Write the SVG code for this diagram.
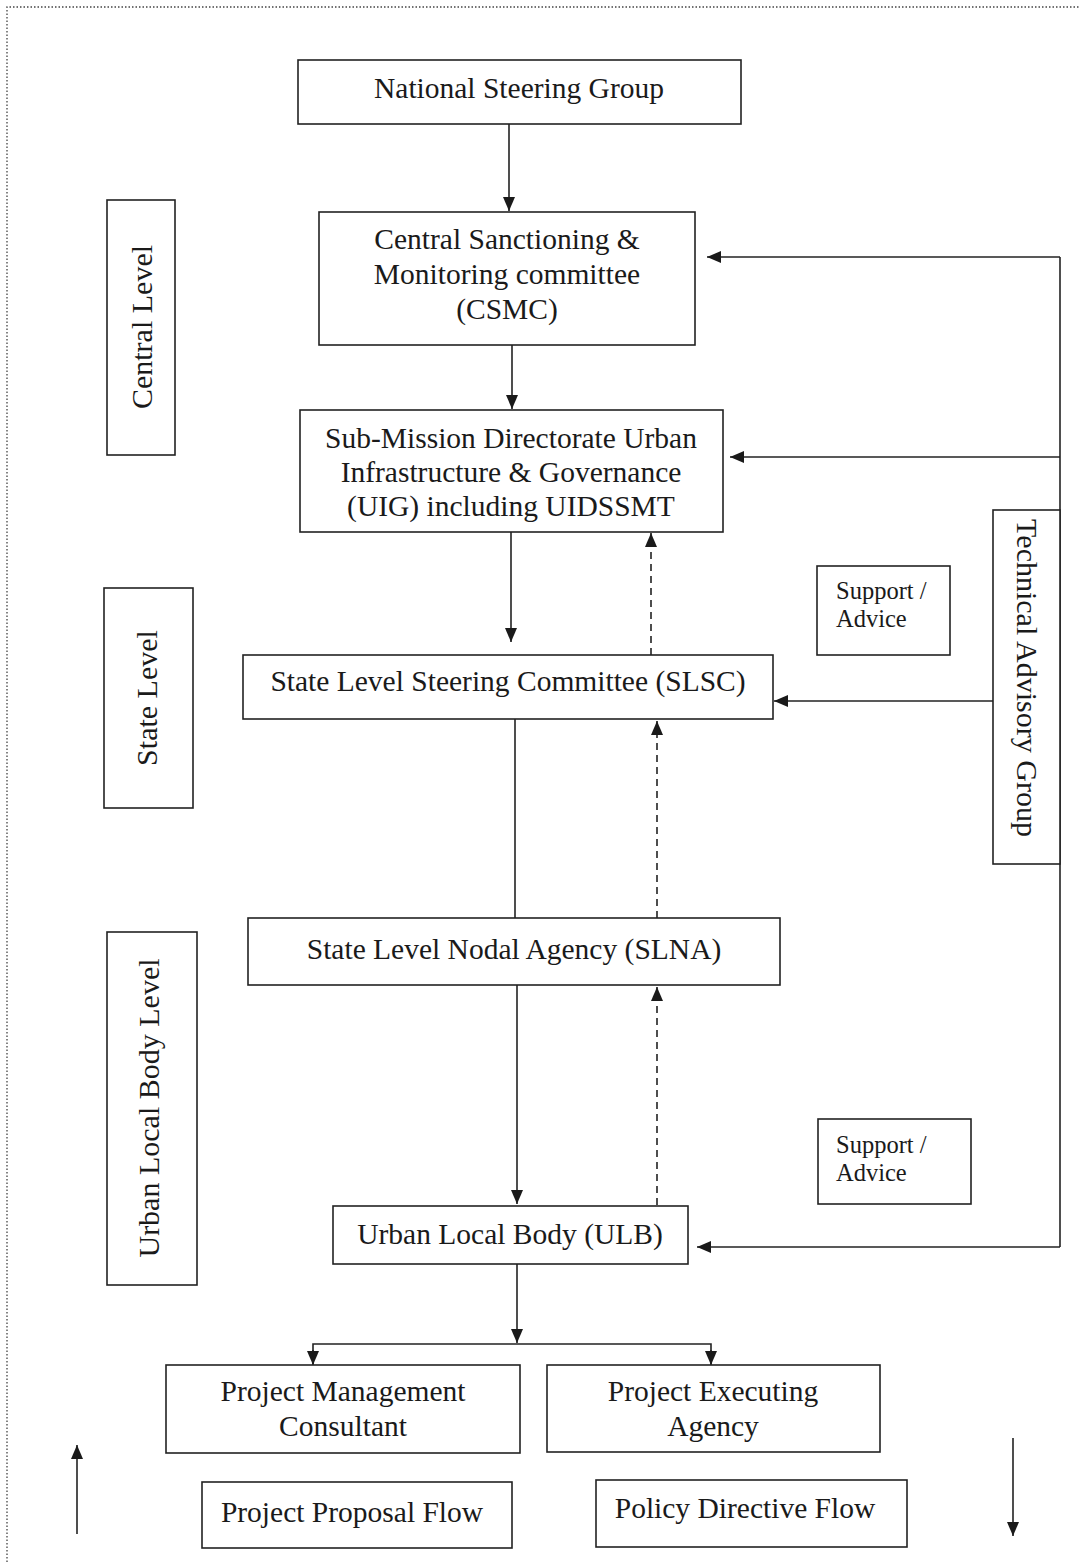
<svg xmlns="http://www.w3.org/2000/svg" width="1080" height="1562" viewBox="0 0 1080 1562">
<defs>
<style>
.box{fill:#fff;stroke:#222;stroke-width:1.6}
.t{font-family:"Liberation Serif","Times New Roman",serif;font-size:29.5px;fill:#1a1a1a;text-anchor:middle}
.r{font-family:"Liberation Serif","Times New Roman",serif;font-size:30px;fill:#1a1a1a;text-anchor:middle}
.s{font-family:"Liberation Serif","Times New Roman",serif;font-size:24.5px;fill:#1a1a1a}
.ln{fill:none;stroke:#222;stroke-width:1.6}
.ds{fill:none;stroke:#222;stroke-width:1.6;stroke-dasharray:7,5}
</style>
<marker id="ah" markerWidth="14" markerHeight="12" refX="14" refY="6" orient="auto" markerUnits="userSpaceOnUse">
<path d="M0,0 L14,6 L0,12 Z" fill="#1a1a1a"/>
</marker>
</defs>
<rect width="1080" height="1562" fill="#fff"/>
<path d="M7,1562 L7,7 L1080,7" fill="none" stroke="#444" stroke-width="1.3" stroke-dasharray="1.5,2"/>

<g id="connectors">
<line class="ln" x1="509" y1="124" x2="509" y2="211" marker-end="url(#ah)"/>
<line class="ln" x1="512" y1="345" x2="512" y2="409" marker-end="url(#ah)"/>
<polyline class="ln" points="1060,257 1060,1247"/>
<line class="ln" x1="1060" y1="257" x2="707" y2="257" marker-end="url(#ah)"/>
<line class="ln" x1="1060" y1="457" x2="730" y2="457" marker-end="url(#ah)"/>
<line class="ln" x1="993" y1="701" x2="774" y2="701" marker-end="url(#ah)"/>
<line class="ln" x1="1060" y1="1247" x2="697" y2="1247" marker-end="url(#ah)"/>
<line class="ln" x1="511" y1="532" x2="511" y2="642" marker-end="url(#ah)"/>
<line class="ds" x1="651" y1="655" x2="651" y2="533" marker-end="url(#ah)"/>
<line class="ln" x1="515" y1="719" x2="515" y2="918"/>
<line class="ds" x1="657" y1="918" x2="657" y2="721" marker-end="url(#ah)"/>
<line class="ln" x1="517" y1="985" x2="517" y2="1204" marker-end="url(#ah)"/>
<line class="ds" x1="657" y1="1205" x2="657" y2="987" marker-end="url(#ah)"/>
<line class="ln" x1="517" y1="1264" x2="517" y2="1343" marker-end="url(#ah)"/>
<polyline class="ln" points="313,1364 313,1344 711,1344 711,1364"/>
<line class="ln" x1="313" y1="1350" x2="313" y2="1365" marker-end="url(#ah)"/>
<line class="ln" x1="711" y1="1350" x2="711" y2="1365" marker-end="url(#ah)"/>
<line class="ln" x1="77" y1="1534" x2="77" y2="1445" marker-end="url(#ah)"/>
<line class="ln" x1="1013" y1="1438" x2="1013" y2="1536" marker-end="url(#ah)"/>
</g>

<g id="nsg"><rect class="box" x="298" y="60" width="443" height="64"/><text class="t" x="519" y="98">National Steering Group</text></g>
<g id="csmc"><rect class="box" x="319" y="212" width="376" height="133"/>
<text class="t" x="507" y="249">Central Sanctioning &amp;</text>
<text class="t" x="507" y="284">Monitoring committee</text>
<text class="t" x="507" y="319">(CSMC)</text></g>
<g id="uig"><rect class="box" x="300" y="410" width="423" height="122"/>
<text class="t" x="511" y="448">Sub-Mission Directorate Urban</text>
<text class="t" x="511" y="482">Infrastructure &amp; Governance</text>
<text class="t" x="511" y="516">(UIG) including UIDSSMT</text></g>
<g id="slsc"><rect class="box" x="243" y="655" width="530" height="64"/>
<text class="t" x="508" y="691">State Level Steering Committee (SLSC)</text></g>
<g id="slna"><rect class="box" x="248" y="918" width="532" height="67"/>
<text class="t" x="514" y="959">State Level Nodal Agency (SLNA)</text></g>
<g id="ulb"><rect class="box" x="333" y="1206" width="355" height="58"/>
<text class="t" x="510" y="1244">Urban Local Body (ULB)</text></g>
<g id="pmc"><rect class="box" x="166" y="1365" width="354" height="88"/>
<text class="t" x="343" y="1401">Project Management</text>
<text class="t" x="343" y="1436">Consultant</text></g>
<g id="pea"><rect class="box" x="547" y="1365" width="333" height="87"/>
<text class="t" x="713" y="1401">Project Executing</text>
<text class="t" x="713" y="1436">Agency</text></g>
<g id="tag"><rect class="box" x="993" y="510" width="67" height="354"/>
<text class="r" transform="translate(1017,678) rotate(90)" x="0" y="0">Technical Advisory Group</text></g>
<g id="support1"><rect class="box" x="817" y="566" width="133" height="89"/>
<text class="s" x="836" y="599">Support /</text><text class="s" x="836" y="627">Advice</text></g>
<g id="support2"><rect class="box" x="818" y="1119" width="153" height="85"/>
<text class="s" x="836" y="1153">Support /</text><text class="s" x="836" y="1181">Advice</text></g>
<g id="central"><rect class="box" x="107" y="200" width="68" height="255"/>
<text class="r" transform="translate(152,327) rotate(-90)" x="0" y="0">Central Level</text></g>
<g id="state"><rect class="box" x="104" y="588" width="89" height="220"/>
<text class="r" transform="translate(157,698) rotate(-90)" x="0" y="0">State Level</text></g>
<g id="ulblevel"><rect class="box" x="107" y="932" width="90" height="353"/>
<text class="r" transform="translate(159,1108) rotate(-90)" x="0" y="0">Urban Local Body Level</text></g>
<g id="proposal"><rect class="box" x="202" y="1482" width="310" height="66"/>
<text class="t" x="352" y="1522">Project Proposal Flow</text></g>
<g id="directive"><rect class="box" x="596" y="1480" width="311" height="67"/>
<text class="t" x="745" y="1518">Policy Directive Flow</text></g>
</svg>
